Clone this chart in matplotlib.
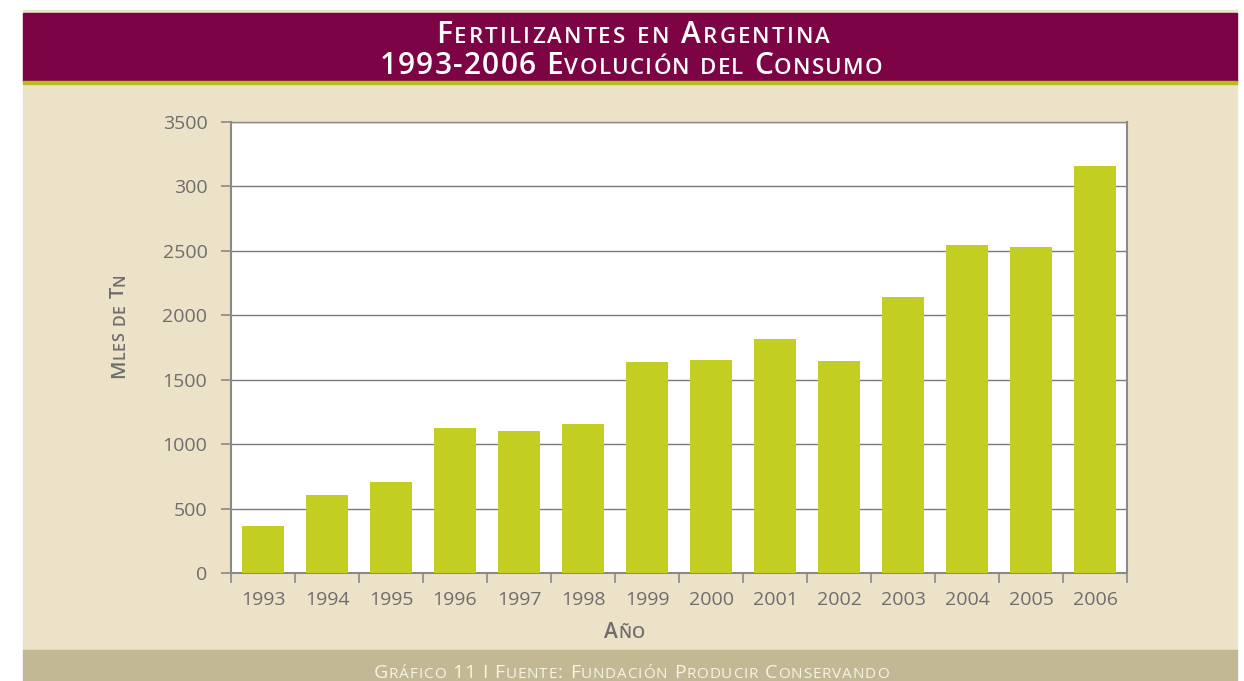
import matplotlib
matplotlib.use("Agg")
import matplotlib.pyplot as plt
from matplotlib.patches import Rectangle
from matplotlib.transforms import IdentityTransform
import numpy as np

# consumo de fertilizantes, miles de toneladas
years = ["1993", "1994", "1995", "1996", "1997", "1998", "1999",
         "2000", "2001", "2002", "2003", "2004", "2005", "2006"]
consumo = [365, 605, 706, 1125, 1100, 1155, 1637,
           1652, 1815, 1645, 2141, 2545, 2532, 3157]
y_ticks = [0, 500, 1000, 1500, 2000, 2500, 3000, 3500]
y_tick_labels = ["0", "500", "1000", "1500", "2000", "2500", "300", "3500"]

W, H = 1244, 681
PURPLE = "#7d0444"
BEIGE = "#ece2c8"
TAN = "#c2b994"
GREEN = "#c2cf22"
GRAY = "#6e6e6e"
FONT = "Open Sans"

plt.rcParams["font.family"] = [FONT, "DejaVu Sans"]

fig = plt.figure(figsize=(W / 100, H / 100), dpi=100, facecolor="white")


def px_rect(x0, y0, x1, y1, color):
    # pixel coords from top-left
    fig.patches.append(Rectangle((x0 / W, 1 - y1 / H), (x1 - x0) / W, (y1 - y0) / H,
                                 transform=fig.transFigure, color=color, zorder=-10))


px_rect(23, 10, 1237, 650, BEIGE)
px_rect(23, 13, 1237, 81, PURPLE)
px_rect(23, 81, 1237, 84, "#b5bd1c")
px_rect(23, 650, 1237, 681, TAN)


def small_caps(text, cx, cy, big, small, color, target, weight="normal", vertical=False):
    # fake small caps with letter spacing, drawn one glyph at a time
    renderer = fig.canvas.get_renderer()
    arts, widths = [], []
    for ch in text:
        sm = ch.islower()
        c = ch.upper() if sm else ch
        size = small if sm else big
        if c == " ":
            arts.append(None)
            widths.append(size * 100 / 72 * 0.26)
            continue
        t = fig.text(0, 0, c, fontsize=size, color=color, weight=weight,
                     transform=IdentityTransform(), ha="left", va="baseline",
                     rotation_mode="anchor")
        widths.append(t.get_window_extent(renderer).width)
        arts.append(t)
    gap = (target - sum(widths)) / max(len(text) - 1, 1)
    cap = big * 100 / 72 * 0.714
    pos = -target / 2
    for t, w in zip(arts, widths):
        if t is not None:
            if vertical:
                t.set_rotation(90)
                t.set_position((cx + cap / 2, (H - cy) + pos))
            else:
                t.set_position((cx + pos, (H - cy) - cap / 2))
        pos += w + gap


small_caps("Fertilizantes en Argentina", 633, 32, 21.5, 16, "white", 394, weight="semibold")
small_caps("1993-2006 Evolución del Consumo", 631, 63, 21.5, 16, "white", 503, weight="semibold")
small_caps("Gráfico 11 I Fuente: Fundación Producir Conservando", 631, 671, 14, 11, "#f7f3e6", 515)

ax = fig.add_axes([231 / W, 1 - 573 / H, (1127 - 231) / W, (573 - 122) / H])
ax.set_facecolor("white")
x = np.arange(len(years))
ax.bar(x, consumo, width=0.66, color=GREEN, zorder=3)

ax.set_xlim(-0.5, len(years) - 0.5)
ax.set_ylim(0, 3500)
ax.set_yticks(y_ticks)
ax.set_yticklabels(y_tick_labels)
ax.set_xticks(x)
ax.set_xticklabels(years)
ax.set_xticks(np.arange(-0.5, len(years)), minor=True)
ax.tick_params(axis="x", which="major", length=0, pad=13, labelsize=14, labelcolor=GRAY)
ax.tick_params(axis="x", which="minor", length=7, width=1.2, color="#8a8a8a", direction="out")
ax.tick_params(axis="y", length=7, width=1.2, color="#8a8a8a", pad=10, labelsize=14, labelcolor=GRAY)
ax.grid(axis="y", color="#7a7a7a", linewidth=1, zorder=1)
ax.set_axisbelow(True)
for side in ["left", "bottom", "right"]:
    ax.spines[side].set_color("#8a8a8a")
    ax.spines[side].set_linewidth(1.5)
ax.spines["top"].set_color("#8a8a8a")
ax.spines["top"].set_linewidth(1)

small_caps("Año", 625, 631, 15, 12, GRAY, 41, weight="semibold")
small_caps("Mles de Tn", 117, 326, 14.5, 11.5, GRAY, 105, weight="semibold", vertical=True)

fig.savefig("out.png", dpi=100, facecolor="white")
